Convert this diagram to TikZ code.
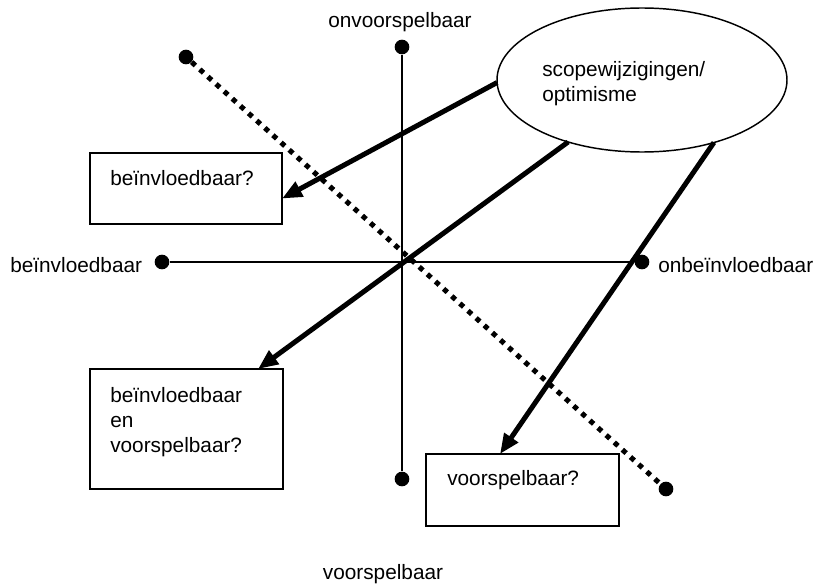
\documentclass[tikz,border=0pt]{standalone}
\usepackage{fontspec}
\setmainfont{Liberation Sans}
\usetikzlibrary{arrows.meta}
\usetikzlibrary{shapes}

\begin{document}
\begin{tikzpicture}[x=0.75pt,y=0.75pt,yscale=-1,xscale=1,
  txt/.style={inner sep=0pt,font=\fontsize{15.6}{18.75}\selectfont},
  enddot/.style={circle,fill=black,inner sep=0pt,minimum size=11pt},
  axis/.style={line width=1.1pt},
  qbox/.style={draw,line width=1.5pt,inner sep=0pt,outer sep=0pt},
  push/.style={line width=3.75pt,-{Triangle[length=15pt,width=12pt]}},
  divide/.style={line width=3.8pt,dash pattern=on 3.8pt off 4.4pt}]
\useasboundingbox (0,0) rectangle (814,585);

%End points of the axes
\node [enddot] (top) at (402,47) {};
\node [enddot] (bottom) at (402,479) {};
\node [enddot] (left) at (162,262) {};
\node [enddot] (right) at (642,262) {};
\node [enddot] (dtop) at (186,57) {};
\node [enddot] (dbottom) at (666,489) {};

%Straight Lines
\draw [axis] (top) -- (bottom);
\draw [axis] (left) -- (right);
%Dotted diagonal
\draw [divide] (dtop) -- (dbottom);

%Shape: Ellipse
\node [draw,ellipse,line width=1.1pt,inner sep=0pt,outer sep=0pt,minimum width=217.5pt,minimum height=108pt,fill=white] (scope) at (642,80) {};

%Boxes
\node [qbox,minimum width=144pt,minimum height=53.25pt] (infl) at (186,188.5) {};
\node [qbox,minimum width=144.75pt,minimum height=90pt] (both) at (186.5,429) {};
\node [qbox,minimum width=144.75pt,minimum height=54pt] (pred) at (522.5,490) {};

%Arrows
\draw [push] (scope.181) -- (infl.-6.8);
\draw [push] (scope.220) -- (both.40);
\draw [push] (scope.319) -- (pred.122);

% Text Node
\node [txt,anchor=base] (ltop) at (400,28) {onvoorspelbaar};
% Text Node
\node [txt,anchor=base] (lbottom) at (383,579) {voorspelbaar};
% Text Node
\node [txt,anchor=base west] (lleft) at (10,272) {beïnvloedbaar};
% Text Node
\node [txt,anchor=base west] (lright) at (658,272) {onbeïnvloedbaar};
% Text Node
\node [txt,anchor=north west,align=left] (lscope) at (542,61) {scopewijzigingen/\\optimisme};
% Text Node
\node [txt,anchor=base west] (linfl) at (110,185) {beïnvloedbaar?};
% Text Node
\node [txt,anchor=north west,align=left] (lboth) at (110,387) {beïnvloedbaar\\en\\voorspelbaar?};
% Text Node
\node [txt,anchor=base west] (lpred) at (447,485) {voorspelbaar?};

\end{tikzpicture}
\end{document}
